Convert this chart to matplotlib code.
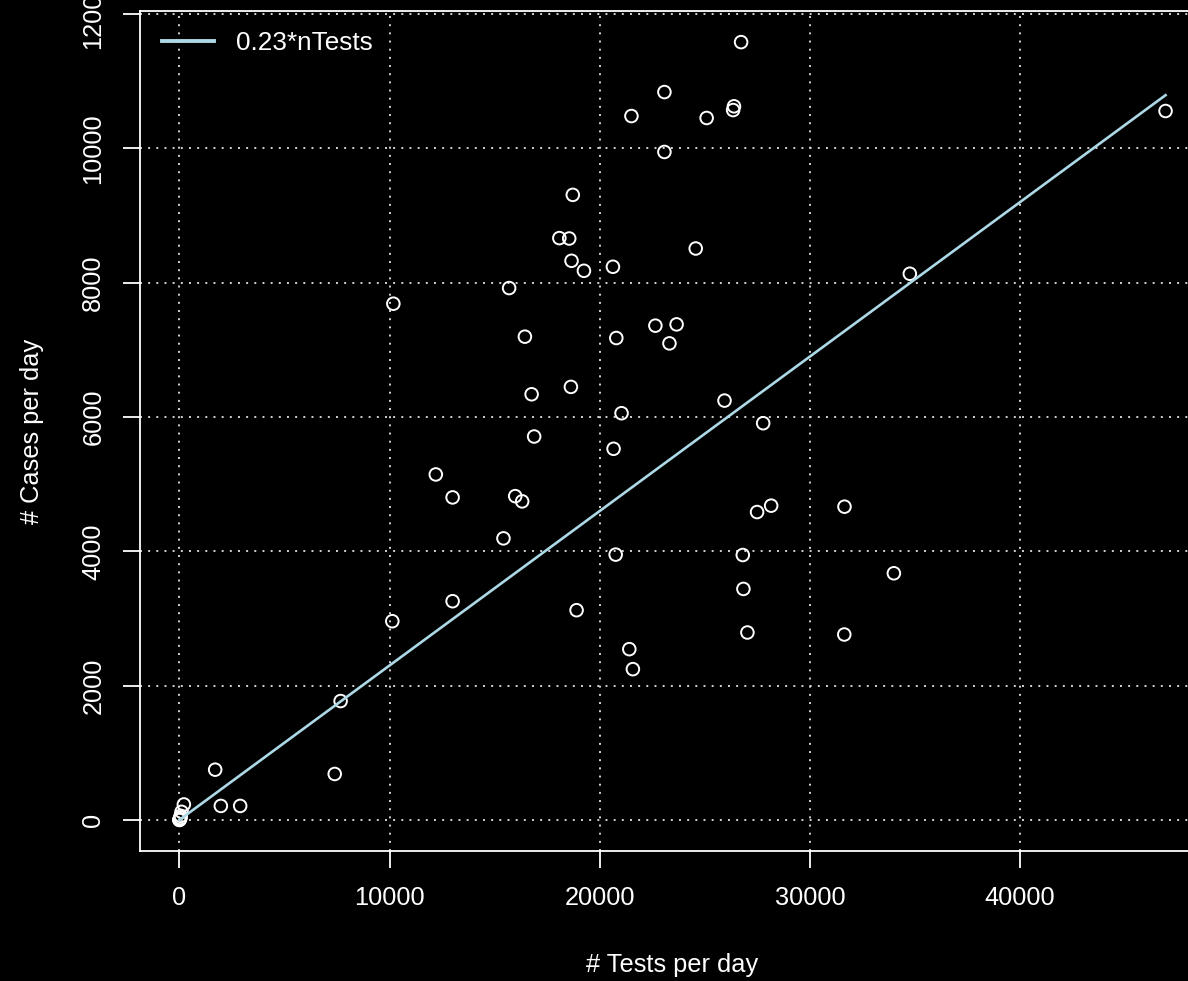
import matplotlib
matplotlib.use("Agg")
import matplotlib.pyplot as plt
import numpy as np

# tests per day vs cases per day
tests = [0, 0, 20, 50, 60, 100, 210, 1700, 1970, 2890, 7390, 7670,
         10130, 10180, 12200, 13000, 13000, 15420, 15690, 15980, 16310,
         16440, 16760, 16880, 18080, 18550, 18630, 18660, 18720, 18900,
         19250, 20630, 20660, 20760, 20790, 21040, 21410, 21510, 21580,
         22650, 23080, 23080, 23320, 23660, 24570, 25090, 25940, 26350,
         26390, 26730, 26810, 26840, 27030, 27490, 27780, 28160, 31640,
         31650, 34000, 34760, 46930]
cases = [0, 0, 10, 30, 60, 120, 230, 748, 208, 208, 684, 1770,
         2959, 7688, 5145, 4803, 3257, 4193, 7921, 4822, 4744,
         7197, 6339, 5710, 8665, 8659, 6449, 8327, 9309, 3123,
         8178, 8238, 5527, 3951, 7177, 6057, 2543, 10483, 2245,
         7361, 10840, 9948, 7097, 7380, 8510, 10454, 6245, 10572,
         10628, 11584, 3945, 3440, 2791, 4585, 5908, 4680, 2761,
         4665, 3673, 8134, 10558]
slope = 0.23
x_ticks = [0, 10000, 20000, 30000, 40000]
y_ticks = [0, 2000, 4000, 6000, 8000, 10000, 12000]

plt.rcParams['font.family'] = ['Liberation Sans', 'DejaVu Sans']
fs = 18.3

W, H = 1188, 981
fig = plt.figure(figsize=(W / 100, H / 100), dpi=100, facecolor='black')
# plot region runs past the right edge of the picture, as in the reference
ax = fig.add_axes([140 / W, (H - 851) / H, 1065 / W, 840 / H])
ax.set_facecolor('black')

ax.scatter(tests, cases, s=82, facecolors='none', edgecolors='white',
           linewidths=1.4, zorder=3)
xs = np.array([min(tests), max(tests)])
ax.plot(xs, slope * xs, color='lightblue', lw=1.9, zorder=4,
        label='0.23*nTests')
ax.margins(0.04)

for v in x_ticks:
    ax.axvline(v, color='lightgray', lw=1.4, ls=(0, (1, 3.2)), zorder=1)
for v in y_ticks:
    ax.axhline(v, color='lightgray', lw=1.4, ls=(0, (1, 3.2)), zorder=1)

ax.set_xticks(x_ticks)
ax.set_yticks(y_ticks)
ax.set_yticklabels([str(v) for v in y_ticks], rotation=90, va='center')
ax.tick_params(colors='white', labelcolor='white', labelsize=fs,
               length=12, width=1.3, pad=13)
for s in ax.spines.values():
    s.set_color('white')
    s.set_linewidth(1.3)

ax.set_xlabel('# Tests per day', color='white', fontsize=fs, va='center')
ax.xaxis.set_label_coords(0.5, (851 - 965) / 840)
ax.set_ylabel('# Cases per day', color='white', fontsize=fs, va='center')
ax.yaxis.set_label_coords((32 - 140) / 1065, 0.5)

leg = ax.legend(loc='upper left', bbox_to_anchor=(162 / W, 1 - 31 / H),
                bbox_transform=fig.transFigure, frameon=False,
                fontsize=fs + 0.5, borderpad=0, borderaxespad=0,
                handlelength=2.0, handletextpad=0.85)
for t in leg.get_texts():
    t.set_color('white')
for l in leg.get_lines():
    l.set_linewidth(2.8)

fig.savefig('out.png', dpi=100, facecolor='black')
